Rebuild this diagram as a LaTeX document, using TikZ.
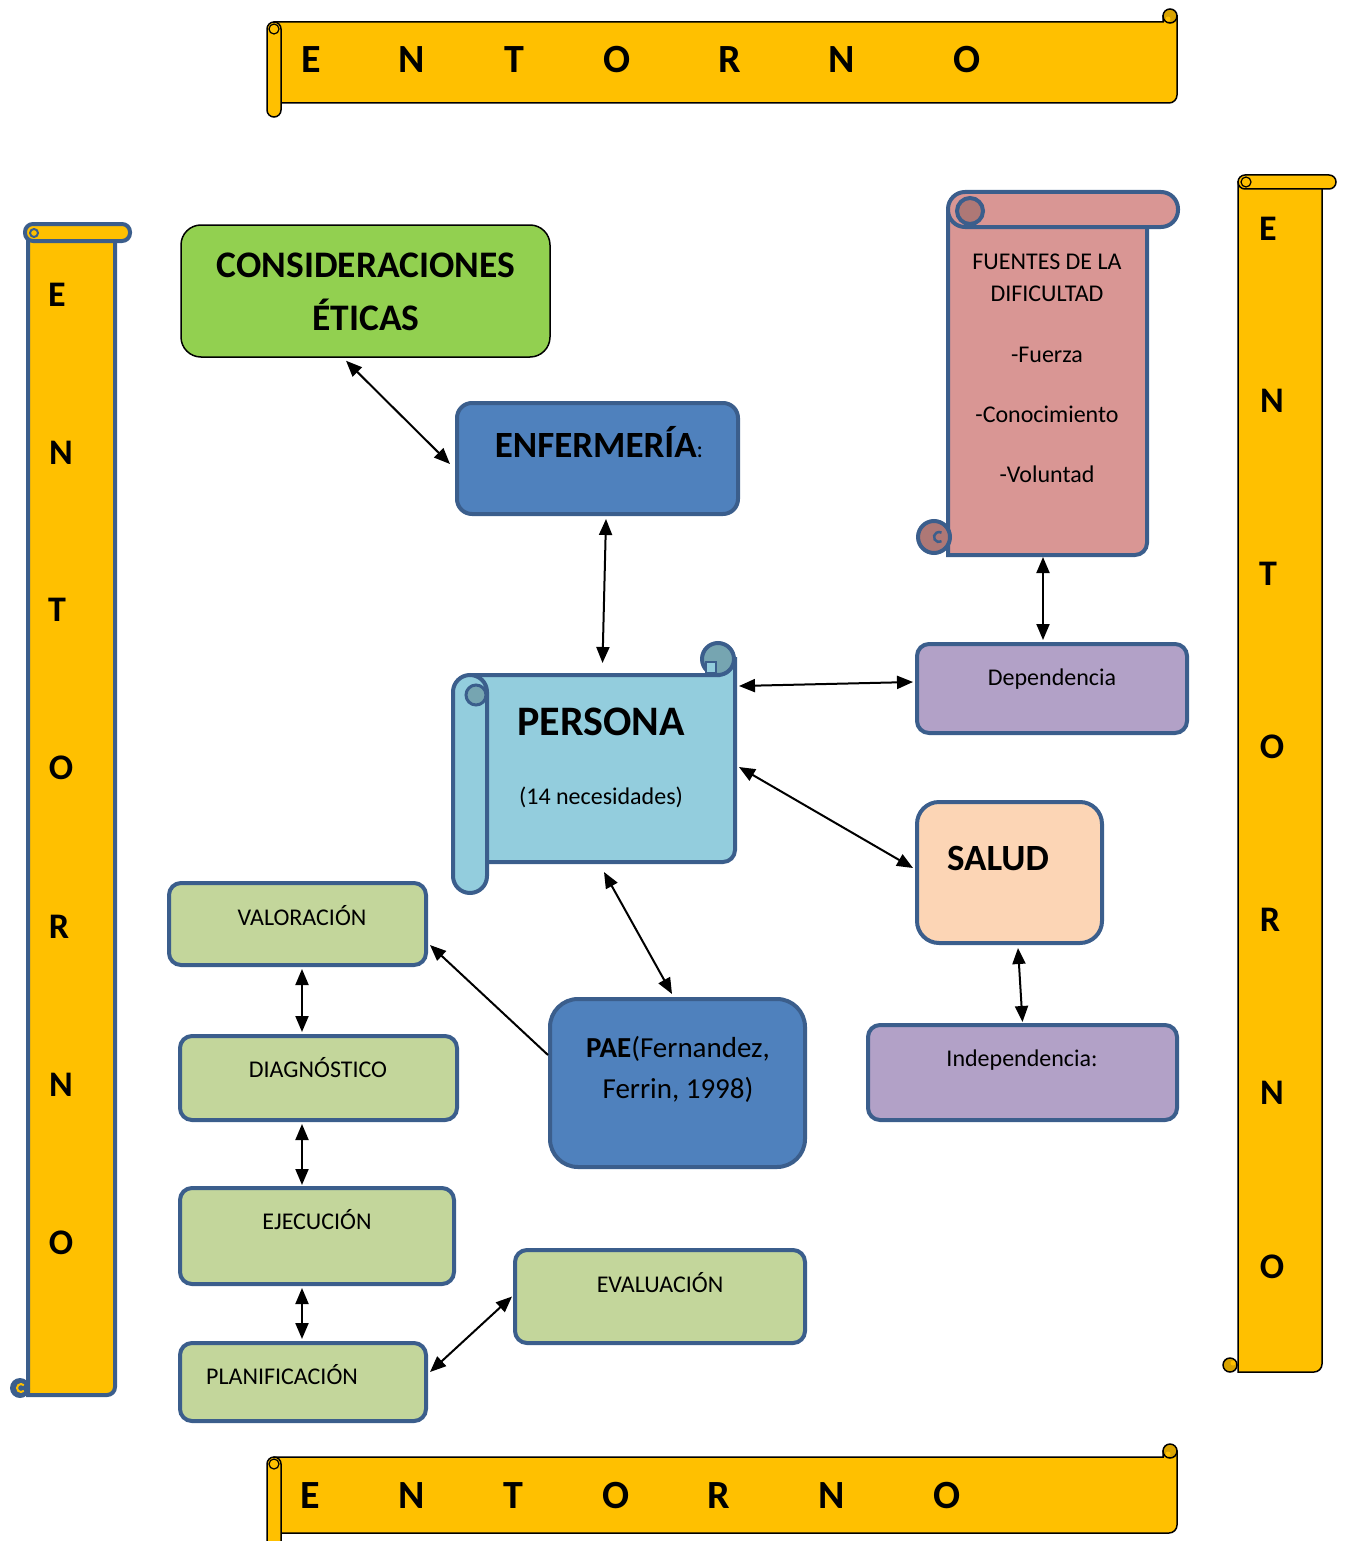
\documentclass[tikz,border=0pt]{standalone}
\usepackage{fontspec}
\setmainfont{Carlito}
\usetikzlibrary{arrows.meta,calc}
\definecolor{ylw}{HTML}{FFC000}
\definecolor{ylwd}{HTML}{D9A300}
\definecolor{bord}{HTML}{3B5E8C}
\definecolor{blu}{HTML}{4F81BD}
\definecolor{lblu}{HTML}{93CDDD}
\definecolor{lblud}{HTML}{76A5B1}
\definecolor{pnk}{HTML}{D99694}
\definecolor{pnkd}{HTML}{AE7876}
\definecolor{prp}{HTML}{B2A1C7}
\definecolor{pch}{HTML}{FCD5B5}
\definecolor{olv}{HTML}{C3D69B}
\definecolor{grn}{HTML}{92D050}
\begin{document}
\begin{tikzpicture}[x=1pt,y=-1pt,
  banblk/.style={fill=ylw, draw=black, line width=1.5pt},
  banblu/.style={fill=ylw, draw=bord, line width=4pt},
  box/.style={draw=bord, line width=4pt, rounded corners=12pt, inner sep=0pt},
  body/.style={inner sep=0pt, outer sep=0pt},
  txt/.style={anchor=base, inner sep=0pt, font=\fontsize{24}{28}\selectfont},
  big/.style={anchor=base, inner sep=0pt, font=\fontsize{37}{44}\selectfont\bfseries},
  bigl/.style={anchor=base, inner sep=0pt, font=\fontsize{40}{48}\selectfont\bfseries},
  side/.style={anchor=base, inner sep=0pt, font=\fontsize{36}{43}\selectfont\bfseries},
  arr/.style={line width=2pt, <->, >={Triangle[length=16pt,width=13pt]}},
  arr1/.style={line width=2pt, ->, >={Triangle[length=16pt,width=13pt]}}]
\useasboundingbox (0,0) rectangle (1344,1541);

% ---------- top banner ----------
\draw[banblk] (274,22) -- (1163,22) -- (1163,16) -- (1177,16) -- (1177,95) .. controls (1177,99.4) and (1173.4,103) .. (1169,103) -- (274,103) -- cycle;
\draw[banblk, fill=ylwd] (1170,16) circle[radius=7];
\fill[ylw] (1168,19) circle[radius=2.5];
\draw[banblk, rounded corners=7pt] (267,22) rectangle (281,117);
\draw[black, line width=1.2pt] (274,29) circle[radius=5];

% ---------- bottom banner ----------
\draw[banblk] (274,1457) -- (1163,1457) -- (1163,1451) -- (1177,1451) -- (1177,1525) .. controls (1177,1529.4) and (1173.4,1533) .. (1169,1533) -- (274,1533) -- cycle;
\draw[banblk, fill=ylwd] (1170,1451) circle[radius=7];
\fill[ylw] (1168,1454) circle[radius=2.5];
\begin{scope}
\clip (0,0) rectangle (1344,1541);
\draw[banblk, rounded corners=7pt] (267,1457) rectangle (281,1570);
\end{scope}
\draw[black, line width=1.2pt] (274,1464) circle[radius=5];

% ---------- left vertical scroll ----------
\draw[banblu] (28,232) -- (115,232) -- (115,1387) .. controls (115,1391.4) and (111.4,1395) .. (107,1395) -- (28,1395) -- cycle;
\draw[banblu, rounded corners=8pt] (25,224) rectangle (130,241);
\draw[bord, line width=2pt] (34,233) circle[radius=4];
\fill[bord] (20,1388) circle[radius=10];
\draw[ylw, line width=2pt] ($(21,1388)+(45:4)$) arc[start angle=45, end angle=315, radius=4];

% ---------- right vertical scroll ----------
\draw[banblk] (1238,182) -- (1322,182) -- (1322,1364) .. controls (1322,1368.4) and (1318.4,1372) .. (1314,1372) -- (1238,1372) -- cycle;
\draw[banblk, rounded corners=7pt] (1238,175) rectangle (1336,189);
\draw[black, line width=1.2pt] (1246,182) circle[radius=5];
\draw[banblk, fill=ylwd] (1230,1365) circle[radius=7];
\fill[ylw] (1233,1363) circle[radius=2.5];

% ---------- letters ----------
\node[bigl] (ta) at (311,73) {E};
\node[bigl] (tb) at (412,73) {N};
\node[bigl] (tc) at (514,73) {T};
\node[bigl] (td) at (617,73) {O};
\node[bigl] (te) at (730,73) {R};
\node[bigl] (tf) at (842,73) {N};
\node[bigl] (tg) at (967,73) {O};
\node[bigl] (ba) at (310,1508) {E};
\node[bigl] (bb) at (412,1508) {N};
\node[bigl] (bc) at (513,1508) {T};
\node[bigl] (bd) at (616,1508) {O};
\node[bigl] (be) at (719,1508) {R};
\node[bigl] (bf) at (832,1508) {N};
\node[bigl] (bg) at (947,1508) {O};
\node[side] (la) at (57,306) {E};
\node[side] (lb) at (61,464) {N};
\node[side] (lc) at (57,621) {T};
\node[side] (ld) at (61,779) {O};
\node[side] (le) at (59,938) {R};
\node[side] (lf) at (61,1096) {N};
\node[side] (lg) at (61,1254) {O};
\node[side] (ra) at (1268,240) {E};
\node[side] (rb) at (1272,412) {N};
\node[side] (rc) at (1268,585) {T};
\node[side] (rd) at (1272,758) {O};
\node[side] (re) at (1270,931) {R};
\node[side] (rf) at (1272,1104) {N};
\node[side] (rg) at (1272,1278) {O};

% ---------- FUENTES scroll ----------
\node[body, minimum width=199pt, minimum height=363pt] (fuentes) at (1047.5,373.5) {};
\draw[fill=pnk, draw=bord, line width=4pt] (948,210) -- (1147,210) -- (1147,543) .. controls (1147,549.6) and (1141.6,555) .. (1135,555) -- (948,555) -- cycle;
\draw[fill=pnk, draw=bord, line width=4pt, rounded corners=17pt] (948,192) rectangle (1178,227);
\draw[fill=pnkd, draw=bord, line width=4pt] (970,211) circle[radius=13];
\draw[fill=pnkd, draw=bord, line width=4pt] (934,537) circle[radius=16];
\draw[bord, line width=2.5pt] ($(939,537)+(60:5)$) arc[start angle=60, end angle=300, radius=5];
\node[txt] (f1) at (1047,269) {FUENTES DE LA};
\node[txt] (f2) at (1047,301) {DIFICULTAD};
\node[txt] (f3) at (1047,362) {-Fuerza};
\node[txt] (f4) at (1047,422) {-Conocimiento};
\node[txt] (f5) at (1047,482) {-Voluntad};

% ---------- PERSONA scroll ----------
\node[body, minimum width=265pt, minimum height=187pt] (persona) at (602.5,768.5) {};
\draw[fill=lblu, draw=bord, line width=4pt] (470,675) -- (718,675) -- (718,659) -- (735,659) -- (735,850) .. controls (735,856.6) and (729.6,862) .. (723,862) -- (470,862) -- cycle;
\draw[fill=lblu, draw=bord, line width=4pt, rounded corners=17pt] (453,675) rectangle (487,893);
\draw[fill=lblud, draw=bord, line width=3pt] (476,695) circle[radius=10];
\draw[fill=lblud, draw=bord, line width=4pt] (718,659) circle[radius=16];
\draw[fill=lblu, draw=bord, line width=2.5pt] (706,662) rectangle (716,673);
\node[anchor=base, inner sep=0pt, font=\fontsize{42}{50}\selectfont\bfseries] (p1) at (601,735) {PERSONA};
\node[txt] (p2) at (601,804) {(14 necesidades)};

% ---------- boxes ----------
\node[draw=black, line width=1.5pt, fill=grn, rounded corners=20pt, minimum width=369pt, minimum height=132pt, inner sep=0pt] (cons) at (365.5,291) {};
\node[font=\fontsize{37.5}{45}\selectfont\bfseries, anchor=base, inner sep=0pt] (c1) at (366,277) {CONSIDERACIONES};
\node[font=\fontsize{37.5}{45}\selectfont\bfseries, anchor=base, inner sep=0pt] (c2) at (366,330) {ÉTICAS};

\node[box, fill=blu, rounded corners=15pt, minimum width=281pt, minimum height=111pt] (enf) at (597.5,458.5) {};
\node[big] (e1) at (599,457) {ENFERMERÍA{\fontsize{24}{28}\selectfont\mdseries :}};

\node[box, fill=prp, minimum width=270pt, minimum height=89pt] (dep) at (1052,688.5) {};
\node[txt] (d1) at (1052,685) {Dependencia};

\node[box, fill=pch, rounded corners=22pt, minimum width=185pt, minimum height=141pt] (salud) at (1009.5,872.5) {};
\node[big] (s1) at (998,870) {SALUD};

\node[box, fill=prp, minimum width=309pt, minimum height=95pt] (indep) at (1022.5,1072.5) {};
\node[txt] (i1) at (1022,1066) {Independencia:};

\node[box, fill=olv, minimum width=257pt, minimum height=82pt] (val) at (297.5,924) {};
\node[txt] (v1) at (302,925) {VALORACIÓN};
\node[box, fill=olv, minimum width=277pt, minimum height=84pt] (diag) at (318.5,1078) {};
\node[txt] (v2) at (318,1077) {DIAGNÓSTICO};
\node[box, fill=olv, minimum width=274pt, minimum height=96pt] (ejec) at (317,1236) {};
\node[txt] (v3) at (317,1229) {EJECUCIÓN};
\node[box, fill=olv, minimum width=246pt, minimum height=78pt] (plan) at (303,1382) {};
\node[txt] (v4) at (282,1384) {PLANIFICACIÓN};
\node[box, fill=olv, minimum width=290pt, minimum height=93pt] (eval) at (660,1296.5) {};
\node[txt] (v5) at (660,1292) {EVALUACIÓN};

\node[box, fill=blu, rounded corners=28pt, minimum width=255pt, minimum height=168pt] (pae) at (677.5,1083) {};
\node[anchor=base, inner sep=0pt, font=\fontsize{29}{35}\selectfont] (pa1) at (678,1057) {\textbf{PAE}(Fernandez,};
\node[anchor=base, inner sep=0pt, font=\fontsize{29}{35}\selectfont] (pa2) at (678,1098) {Ferrin, 1998)};

% ---------- connectors ----------
\draw[arr] ([xshift=-19.5pt,yshift=-3pt]cons.south) -- ([xshift=-5pt,yshift=-5.5pt]enf.west);
\draw[arr] ([xshift=8.5pt,yshift=-3pt]enf.south) -- ([yshift=12pt]persona.north);
\draw[arr] ([xshift=4pt,yshift=-11pt]persona.north east) -- ([xshift=-2pt,yshift=6.5pt]dep.west);
\draw[arr] ([xshift=4pt,yshift=1.5pt]persona.east) -- ([xshift=-2pt,yshift=4.5pt]salud.west);
\draw[arr] ([xshift=1.5pt,yshift=-10pt]persona.south) -- ([xshift=-5.5pt,yshift=3pt]pae.north);
\draw[arr] ([xshift=-4.5pt,yshift=-2pt]fuentes.south) -- ([xshift=-9pt,yshift=2pt]dep.north);
\draw[arr] ([xshift=8.5pt,yshift=-3pt]salud.south) -- ([yshift=1pt]indep.north);
\draw[arr1] ([yshift=28pt]pae.west) -- ([xshift=2pt,yshift=-21pt]val.east);
\draw[arr] ([xshift=4.5pt,yshift=-2pt]val.south) -- ([xshift=-16.5pt,yshift=2pt]diag.north);
\draw[arr] ([xshift=-16.5pt,yshift=-2pt]diag.south) -- ([xshift=-15pt,yshift=1pt]ejec.north);
\draw[arr] ([xshift=-15pt,yshift=-2pt]ejec.south) -- ([xshift=-1pt,yshift=2pt]plan.north);
\draw[arr] ([xshift=2pt,yshift=10pt]plan.east) -- ([xshift=-1pt]eval.west);
\end{tikzpicture}
\end{document}
